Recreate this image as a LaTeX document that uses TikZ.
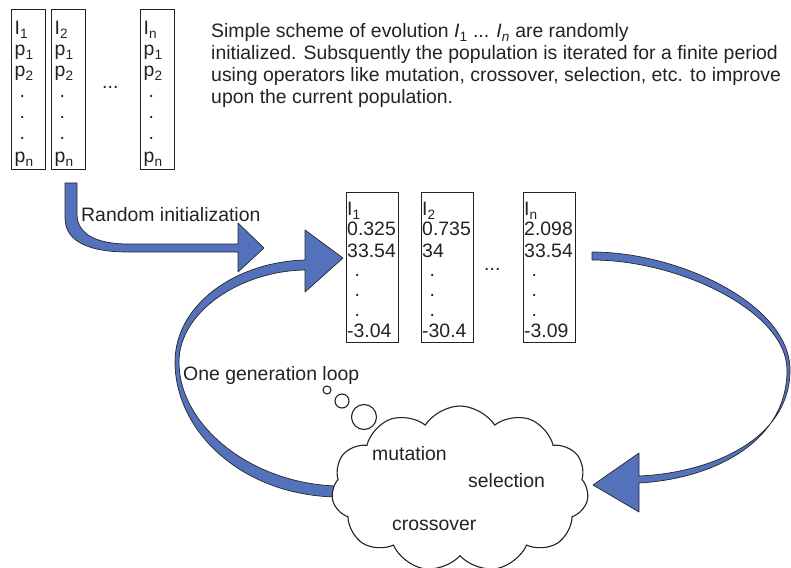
\documentclass[tikz,border=0pt]{standalone}
\usepackage{fontspec}
\setmainfont{Liberation Sans}
\usetikzlibrary{shapes.symbols}
\definecolor{arrowblue}{RGB}{84,114,188}
\definecolor{ink}{RGB}{35,35,35}
\begin{document}
\begin{tikzpicture}[x=1bp,y=-1bp,
  box/.style={draw=ink, line width=1.3bp, inner sep=0pt, anchor=north west},
  txt/.style={font=\fontsize{19.5}{22}\selectfont, text=ink, inner sep=0pt, anchor=base west},
  barrow/.style={fill=arrowblue, draw=black!85, line width=0.7bp, line join=round},
  bubble/.style={circle, draw=ink, line width=1.1bp, fill=white, inner sep=0pt}]
\useasboundingbox (0,0) rectangle (791,568);

% ---------- top parameter vectors ----------
\foreach \bx/\nm/\first in {11/t1/I\textsubscript{1}, 51/t2/I\textsubscript{2}, 140/tn/I\textsubscript{n}} {
  \node[box, minimum width=34bp, minimum height=160bp] (\nm) at (\bx,9) {};
  \node[txt] (\nm-1) at (\bx+3.5,35) {\first};
  \node[txt] (\nm-2) at (\bx+3.5,56) {p\textsubscript{1}};
  \node[txt] (\nm-3) at (\bx+3.5,77) {p\textsubscript{2}};
  \node[txt] (\nm-4) at (\bx+8.5,98) {.};
  \node[txt] (\nm-5) at (\bx+8.5,119) {.};
  \node[txt] (\nm-6) at (\bx+8.5,140) {.};
  \node[txt] (\nm-7) at (\bx+3.5,163) {p\textsubscript{n}};
}
\node[txt] (tdots) at (102,89) {...};

% ---------- description ----------
\node[txt] (d1) at (211,38) {Simple scheme of evolution \textit{I}\textsubscript{1} ... \textit{I}\textsubscript{\textit{n}} are randomly};
\node[txt] (d2) at (211,60) {initialized. Subsquently the population is iterated for a finite period};
\node[txt] (d3) at (211,82) {using operators like mutation, crossover, selection, etc. to improve};
\node[txt] (d4) at (211,104) {upon the current population.};

% ---------- middle population ----------
\foreach \bx/\nm/\a/\b/\c/\d in {346/m1/I\textsubscript{1}/0.325/33.54/-3.04, 421/m2/I\textsubscript{2}/0.735/34/-30.4, 523/mn/I\textsubscript{n}/2.098/33.54/-3.09} {
  \node[box, minimum width=52bp, minimum height=150bp] (\nm) at (\bx,192) {};
  \node[txt] (\nm-1) at (\bx+1,216) {\a};
  \node[txt] (\nm-2) at (\bx+1,236) {\b};
  \node[txt] (\nm-3) at (\bx+1,257) {\c};
  \node[txt] (\nm-4) at (\bx+8.5,276) {.};
  \node[txt] (\nm-5) at (\bx+8.5,296) {.};
  \node[txt] (\nm-6) at (\bx+8.5,316) {.};
  \node[txt] (\nm-7) at (\bx+1,337) {\d};
}
\node[txt] (mdots) at (484,270) {...};

% ---------- random initialization arrow ----------
\coordinate (riTip) at (264,248);
\draw[barrow] (65,183) -- (65,218) .. controls (65,243) and (92,252) .. (128,252)
  -- (238,252) -- (238,272) -- (riTip) -- (238,223) -- (238,244) -- (128,244)
  .. controls (100,244) and (77,236) .. (77,214) -- (77,183) -- cycle;
\node[txt] (ri) at (81,222) {Random initialization};

% ---------- right loop arrow ----------
\coordinate (rlTip) at (593,485);
\draw[barrow] (592,252) .. controls (680,252) and (790,305) .. (790,370)
  .. controls (790,440) and (710,473) .. (639,476)
  -- (639,453) -- (rlTip) -- (639,512) -- (639,483)
  .. controls (712,479) and (787,443) .. (787,370)
  .. controls (787,312) and (680,260) .. (592,260) -- cycle;

% ---------- left loop arrow ----------
\coordinate (llTip) at (343,258);
\draw[barrow] (305,260) .. controls (235,262) and (175,305) .. (175,362)
  .. controls (175,430) and (240,495) .. (336,497) -- (336,486)
  .. controls (250,483) and (179,425) .. (179,362)
  .. controls (179,312) and (240,271) .. (305,270)
  -- (305,292) -- (llTip) -- (305,230) -- cycle;
\node[txt] (loop) at (183,380) {One generation loop};

% ---------- thought cloud ----------
\node[bubble, minimum size=8bp] (bub1) at (327,390) {};
\node[bubble, minimum size=14bp] (bub2) at (342,401) {};
\node[bubble, minimum size=25bp] (bub3) at (364,417) {};
\node[cloud, draw=ink, fill=white, line width=1.1bp, cloud puffs=11, cloud puff arc=115,
  aspect=1.6, minimum width=257bp, minimum height=166bp, inner sep=0pt] (cloud) at (460,489) {};
\node[txt] (mut) at (372,460) {mutation};
\node[txt] (sel) at (468,487) {selection};
\node[txt] (cro) at (392,530) {crossover};
\end{tikzpicture}
\end{document}
